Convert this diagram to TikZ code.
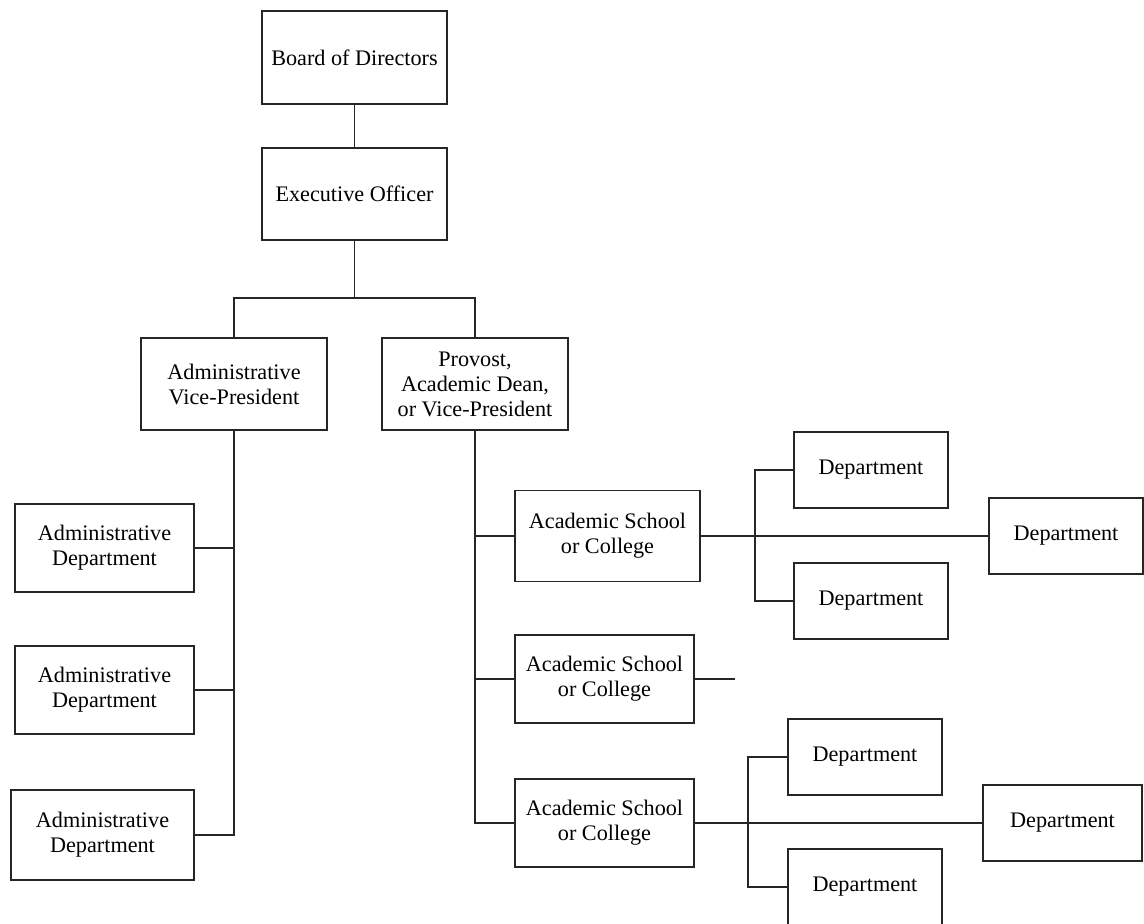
\documentclass[tikz,border=0pt]{standalone}
\usepackage{fontspec}
\setmainfont{Liberation Serif}
\begin{document}
\begin{tikzpicture}[x=1pt,y=-1pt,
  box/.style={draw=black!85, line width=1.5pt, align=center, inner sep=0pt,
    font=\fontsize{22.2}{25}\selectfont},
  link/.style={draw=black!85, line width=1.5pt}]
\useasboundingbox (0,0) rectangle (1144,924);
\node[box, minimum width=185, minimum height=93] (board) at (354.5,57.5) {Board of Directors};
\node[box, minimum width=185, minimum height=92] (exec) at (354.5,194) {Executive Officer};
\node[box, minimum width=186, minimum height=92] (avp) at (234,384) {Administrative\\Vice-President};
\node[box, minimum width=186, minimum height=92] (prov) at (475,384) {Provost,\\Academic Dean,\\or Vice-President};
\node[box, minimum width=179, minimum height=88] (ad1) at (104.5,548) {Administrative\\Department};
\node[box, minimum width=179, minimum height=88] (ad2) at (104.5,690) {Administrative\\Department};
\node[box, minimum width=183, minimum height=90] (ad3) at (102.5,835) {Administrative\\Department};
\node[box, minimum width=185, minimum height=91] (s1) at (607.5,536) {Academic School\\or College};
\node[box, minimum width=179, minimum height=88] (s2) at (604.5,679) {Academic School\\or College};
\node[box, minimum width=179, minimum height=88] (s3) at (604.5,823) {Academic School\\or College};
\node[box, minimum width=154, minimum height=76] (d1a) at (871,470) {Department};
\node[box, minimum width=154, minimum height=76] (d1b) at (1066,536) {Department};
\node[box, minimum width=154, minimum height=76] (d1c) at (871,601) {Department};
\node[box, minimum width=154, minimum height=76] (d3a) at (865,757) {Department};
\node[box, minimum width=159, minimum height=76] (d3b) at (1062.5,823) {Department};
\node[box, minimum width=154, minimum height=76] (d3c) at (865,887) {Department};
\coordinate (stub) at (735,679);
% top
\draw[link] (board) -- (exec);
\draw[link] (exec.south) -- (354.5,298) -| (avp.north);
\draw[link] (354.5,298) -| (prov.north);
% admin
\draw[link] (avp.south) |- (ad3.east);
\draw[link] (ad1.east) -- (ad1.east -| avp.south);
\draw[link] (ad2.east) -- (ad2.east -| avp.south);
% academic
\draw[link] (prov.south) |- (s3.west);
\draw[link] (s1.west) -- (s1.west -| prov.south);
\draw[link] (s2.west) -- (s2.west -| prov.south);
\draw[link] (s2.east) -- (stub);
% school 1 departments
\draw[link] (s1.east) -- (d1b.west);
\draw[link] (d1a.west) -- (755,470) |- (d1c.west);
% school 3 departments
\draw[link] (s3.east) -- (d3b.west);
\draw[link] (d3a.west) -- (748,757) |- (d3c.west);
\end{tikzpicture}
\end{document}
